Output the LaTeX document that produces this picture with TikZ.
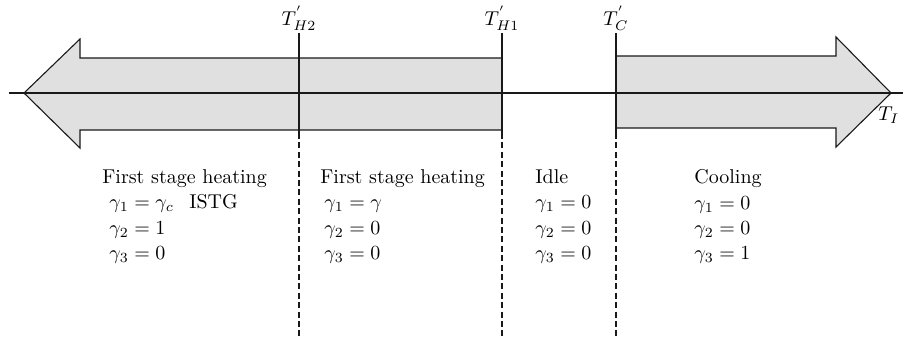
\documentclass[tikz,border=0pt]{standalone}
\usepackage{amsmath,amssymb}
\usepackage{xcolor}
\usepackage{tikz}
\usetikzlibrary{positioning}
\definecolor{bandgrey}{RGB}{224,224,224}
\definecolor{inkline}{RGB}{25,25,25}
\tikzset{
  band/.style={draw=inkline, line width=0.55pt, fill=bandgrey, line join=miter},
  axisln/.style={draw=inkline, line width=0.55pt},
  tline/.style={draw=inkline, line width=0.6pt},
  tdash/.style={draw=inkline, line width=0.6pt, dash pattern=on 3pt off 1.7pt, dash phase=3pt},
  tlab/.style={inner sep=1pt, font=\normalsize},
  phase/.style={anchor=north west, align=left, inner sep=0pt, font=\normalsize},
}

\begin{document}
\begin{tikzpicture}[x=0.5pt,y=-0.5pt]
\useasboundingbox (0,0) rectangle (903,339);
% heating band (pointing left) and cooling band (pointing right)
\draw[band] (502,58) -- (80,58) -- (80,39) -- (24,93) -- (80,148) -- (80,130) -- (502,130) -- cycle;
\draw[band] (616,56) -- (836,56) -- (836,37) -- (891,93) -- (836,147) -- (836,128) -- (616,128) -- cycle;
% temperature axis
\coordinate (xl) at (9,93);
\coordinate (xr) at (903,93);
\draw[axisln] (xl) -- (xr);
\node[tlab, anchor=west] (lI) at (876,115) {$T_I$};
% switching temperatures
\coordinate (tH2) at (299,33);
\coordinate (bH2) at (299,139);
\coordinate (eH2) at (299,339);
\coordinate (tH1) at (502,33);
\coordinate (bH1) at (502,139);
\coordinate (eH1) at (502,339);
\coordinate (tC) at (616,33);
\coordinate (bC) at (616,139);
\coordinate (eC) at (616,339);
\node[tlab, above=0pt of tH2] (lH2) {$T^{'}_{H2}$};
\node[tlab, above=0pt of tH1] (lH1) {$T^{'}_{H1}$};
\node[tlab, above=0pt of tC] (lC) {$T^{'}_{C}$};
\draw[tline] (tH2) -- (bH2);
\draw[tline] (tH1) -- (bH1);
\draw[tline] (tC) -- (bC);
\draw[tdash] (bH2) -- (eH2);
\draw[tdash] (bH1) -- (eH1);
\draw[tdash] (bC) -- (eC);
% operating modes
\node[phase] (istg) at (102,169) {First stage heating\\[0.8pt]
  \hspace*{3.5pt}\makebox[40pt][l]{$\gamma_1 = \gamma_c$}ISTG\\[0.6pt]
  \hspace*{3.5pt}$\gamma_2 = 1$\\[0.8pt]
  \hspace*{3.5pt}$\gamma_3 = 0$};
\node[phase] (heat) at (320,169) {First stage heating\\[0.8pt]
  \hspace*{2pt}$\gamma_1 = \gamma$\\[0.6pt]
  \hspace*{2pt}$\gamma_2 = 0$\\[0.8pt]
  \hspace*{2pt}$\gamma_3 = 0$};
\node[phase] (idle) at (535,169) {Idle\\[0.8pt]
  $\gamma_1 = 0$\\[0.6pt]
  $\gamma_2 = 0$\\[0.8pt]
  $\gamma_3 = 0$};
\node[phase] (cool) at (694,169) {Cooling\\[0.8pt]
  $\gamma_1 = 0$\\[0.6pt]
  $\gamma_2 = 0$\\[0.8pt]
  $\gamma_3 = 1$};
\end{tikzpicture}
\end{document}
